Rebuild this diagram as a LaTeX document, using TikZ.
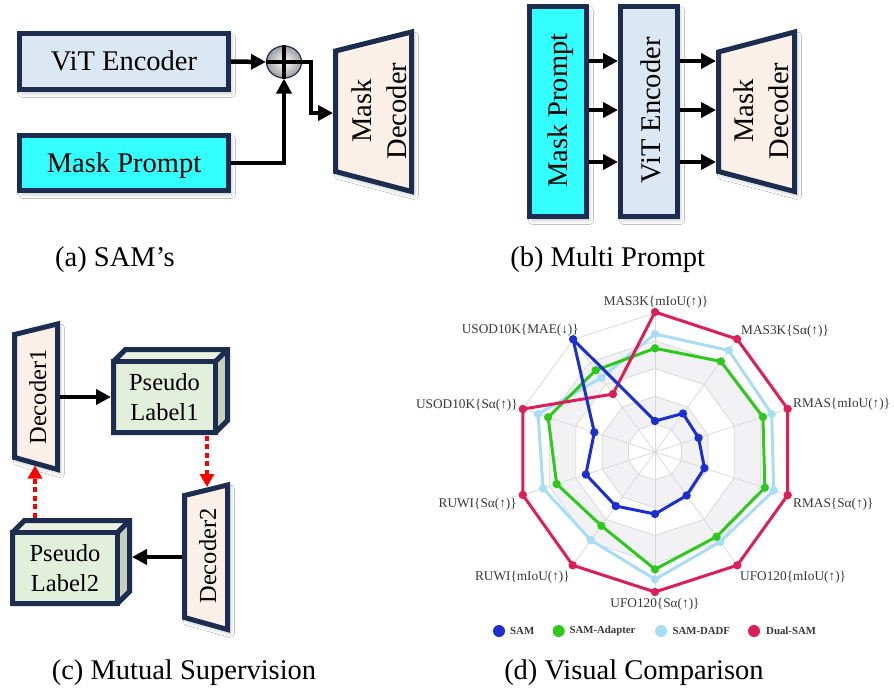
\documentclass[tikz,border=0pt]{standalone}
\usepackage{fontspec}
\setmainfont{Liberation Serif}
\usetikzlibrary{arrows.meta,calc,shapes.geometric,shadows.blur}
\pgfdeclarelayer{bg}
\pgfsetlayers{bg,main}
\definecolor{navy}{HTML}{1C2D50}
\definecolor{vitfill}{HTML}{DCE7F4}
\definecolor{mpfill}{HTML}{33FFFF}
\definecolor{decfill}{HTML}{FBF0E8}
\definecolor{plfront}{HTML}{E2EFDA}
\definecolor{pltop}{HTML}{E9F2E3}
\definecolor{plside}{HTML}{C5CFBD}
\definecolor{gridc}{HTML}{DADADA}
\definecolor{bandc}{HTML}{F2F2F5}
\definecolor{labc}{HTML}{383838}
\definecolor{csam}{HTML}{1B2FCF}
\definecolor{cada}{HTML}{2EC81F}
\definecolor{cdadf}{HTML}{A9DDF6}
\definecolor{cdual}{HTML}{DB1F57}
\newcommand\myradar[2]{%
  \foreach \a/\r [count=\i] in {#2} \coordinate (#1p\i) at (\a:\r);
  \draw[#1, line width=3pt, line join=round] (#1p1) \foreach \i in {2,...,10}{-- (#1p\i)} -- cycle;
  \foreach \i in {1,...,10} \fill[#1] (#1p\i) circle (4.2);
}
\begin{document}
\begin{tikzpicture}[x=1pt,y=-1pt,
  shad/.style={blur shadow={shadow xshift=3pt, shadow yshift=-4pt, shadow blur radius=4pt, shadow opacity=22}},
  box/.style={draw=navy, line width=5pt, line join=miter, inner sep=0pt, shad},
  plbox/.style={draw=navy, line width=5pt, line join=miter, fill=plfront, inner sep=0pt, outer sep=0pt, align=center, mid},
  edge3d/.style={navy, line width=5pt, line join=miter},
  big/.style={font=\fontsize{28.5}{35}\selectfont},
  mid/.style={font=\fontsize{24.5}{30}\selectfont},
  bigtxt/.style={big, text height=18.8pt, text depth=0pt, inner sep=0pt},
  midtxt/.style={mid, text height=16.2pt, text depth=0pt, inner sep=0pt},
  arr/.style={line width=4.5pt, -{Triangle[length=15pt,width=15pt]}},
  redarr/.style={draw=red, line width=4pt, dash pattern=on 5pt off 3.5pt, -{Triangle[length=13pt,width=14pt]}},
  lab/.style={font=\fontsize{13.3}{16}\selectfont, text=labc, inner sep=0pt},
  legt/.style={font=\fontsize{10.8}{13}\selectfont\bfseries, text=labc, inner sep=0pt},
  legd/.style={circle, minimum size=12pt, inner sep=0pt},
  ]
\useasboundingbox (0,0) rectangle (894,691);
\fill[white] (0,0) rectangle (894,691);

% ---------- (a) ----------
\node[box, fill=vitfill, minimum width=209pt, minimum height=56pt] (vitA) at (124,61.5) {};
\node[bigtxt] (vitAt) at (124,61.5) {ViT Encoder};
\node[box, fill=mpfill, minimum width=209pt, minimum height=55pt] (mpA) at (124,163) {};
\node[bigtxt] (mpAt) at (124,163) {Mask Prompt};
\draw[box, fill=decfill] (335.5,51) -- (411.5,32) -- (411.5,191.5) -- (335.5,171.5) -- cycle;
\node[big, rotate=90, align=center, inner sep=0pt] (decAt) at (379.5,111) {Mask\\Decoder};
\coordinate (decAin) at (333,113);
\node[ellipse, draw=navy, line width=1.2pt, minimum width=35pt, minimum height=32pt, inner sep=0pt,
      inner color=white, outer color=black!38] (plusA) at (284,62) {};
\draw[line width=4.5pt] (plusA.west) -- (plusA.east) (plusA.north) -- (plusA.south);
\draw[arr] (vitA.east) -- (plusA.west);
\draw[arr] (mpA.east) -| (plusA.south);
\draw[arr] (plusA.east) -- ++(9,0) |- (decAin);
\node[big, anchor=base] (capA) at (115,266) {(a) SAM’s};

% ---------- (b) ----------
\node[box, fill=mpfill, minimum width=57pt, minimum height=210pt] (mpB) at (558,111.5) {};
\node[bigtxt, rotate=90] (mpBt) at (558,110.6) {Mask Prompt};
\node[box, fill=vitfill, minimum width=57pt, minimum height=210pt] (vitB) at (649,111.5) {};
\node[bigtxt, rotate=90] (vitBt) at (651,110.5) {ViT Encoder};
\draw[box, fill=decfill] (718.5,52) -- (794.5,32) -- (794.5,191.5) -- (718.5,171.5) -- cycle;
\node[big, rotate=90, align=center, inner sep=0pt] (decBt) at (761,111) {Mask\\Decoder};
\coordinate (decBin) at (716,111.5);
\foreach \dy in {50.5,1.5,-50.5}{
  \draw[arr] ([yshift=\dy pt]mpB.east) -- ([yshift=\dy pt]vitB.west);
  \draw[arr] ([yshift=\dy pt]vitB.east) -- ([yshift=\dy pt]decBin);
}
\node[big, anchor=base] (capB) at (607.7,266) {(b) Multi Prompt};

% ---------- (c) ----------
\draw[box, fill=decfill] (14.5,334.5) -- (57.5,324) -- (57.5,469.5) -- (14.5,457.5) -- cycle;
\node[midtxt, rotate=90] (dec1t) at (38,397) {Decoder1};
\coordinate (d1out) at (60,397);
\coordinate (d1in) at (35,465.5);
\draw[box, fill=decfill] (184.5,495.5) -- (227.5,485) -- (227.5,629.5) -- (184.5,617.5) -- cycle;
\node[midtxt, rotate=90] (dec2t) at (208,556) {Decoder2};
\coordinate (d2out) at (182,557);
\coordinate (d2in) at (207,487);

\node[plbox, minimum width=102pt, minimum height=71pt] (pl1) at (164.5,397) {Pseudo\\Label1};
\node[plbox, minimum width=105pt, minimum height=71pt] (pl2) at (65,568) {Pseudo\\Label2};
\foreach \n in {pl1,pl2}{
  \begin{pgfonlayer}{bg}
    \path[shad] (\n.south west) -- (\n.north west) -- ++(12,-12) -- ($(\n.north east)+(12,-12)$)
      -- ($(\n.south east)+(12,-12)$) -- (\n.south east) -- cycle;
  \end{pgfonlayer}
  \fill[pltop] (\n.north west) -- ++(12,-12) -- ($(\n.north east)+(12,-12)$) -- (\n.north east) -- cycle;
  \fill[plside] (\n.north east) -- ++(12,-12) -- ($(\n.south east)+(12,-12)$) -- (\n.south east) -- cycle;
  \draw[edge3d] (\n.north east) -- ++(12,-12);
  \draw[edge3d] (\n.south west) -- (\n.north west) -- ++(12,-12) -- ($(\n.north east)+(12,-12)$)
      -- ($(\n.south east)+(12,-12)$) -- (\n.south east) -- cycle;
  \draw[edge3d] (\n.north west) -- (\n.north east) -- (\n.south east);
}
\coordinate (pl2in) at ($(pl2.east |- d2out)+(14.5,0)$);
\coordinate (pl2top) at ($(pl2.north -| d1in)+(0,-12)$);
\draw[arr, shorten >=2.5pt] (d1out) -- (pl1.west);
\draw[arr] (d2out) -- (pl2in);
\draw[redarr, shorten <=3pt] (pl1.south -| d2in) -- (d2in);
\draw[redarr, shorten <=3pt] (pl2top) -- (d1in);
\node[big, anchor=base] (capC) at (184,679) {(c) Mutual Supervision};

% ---------- (d) radar ----------
\begin{scope}[shift={(655,452)}, y={(0pt,1pt)}]
  \foreach \k/\c in {5/white,4/bandc,3/white,2/bandc,1/white}
    \fill[\c] (90:{27.8*\k}) \foreach \j in {1,...,9}{ -- ({90-36*\j}:{27.8*\k}) } -- cycle;
  \foreach \k in {1,...,5}
    \draw[gridc, line width=0.8pt] (90:{27.8*\k}) \foreach \j in {1,...,9}{ -- ({90-36*\j}:{27.8*\k}) } -- cycle;
  \foreach \j in {0,...,9} \draw[gridc, line width=0.8pt] (0,0) -- ({90-36*\j}:139);
  \myradar{cdadf}{90/118, 54/125.6, 18/122.7, -18/124.8, -54/111, -90/127.3, -126/109, -162/117.7, 162/123, 126/91.7}
  \myradar{cada}{90/103.7, 54/112, 18/113.5, -18/115.5, -54/104.7, -90/117.3, -126/91.2, -162/103.4, 162/112.4, 126/101}
  \myradar{cdual}{90/140, 54/139.6, 18/139.5, -18/139.5, -54/140, -90/140, -126/140, -162/139, 162/139, 126/71.6}
  \myradar{csam}{90/31, 54/47.6, 18/45.8, -18/52, -54/53.8, -90/62, -126/66.8, -162/72.7, 162/63.8, 126/139.4}
\end{scope}
\node[lab] (l0) at (656,302) {MAS3K\{mIoU(↑)\}};
\node[lab, anchor=west] (l1) at (741,331) {MAS3K\{Sα(↑)\}};
\node[lab, anchor=west] (l2) at (793,404) {RMAS\{mIoU(↑)\}};
\node[lab, anchor=west] (l3) at (793,504) {RMAS\{Sα(↑)\}};
\node[lab, anchor=west] (l4) at (740,577) {UFO120\{mIoU(↑)\}};
\node[lab] (l5) at (655,604) {UFO120\{Sα(↑)\}};
\node[lab, anchor=east] (l6) at (570,577) {RUWI\{mIoU(↑)\}};
\node[lab, anchor=east] (l7) at (517,504) {RUWI\{Sα(↑)\}};
\node[lab, anchor=east] (l8) at (518,405) {USOD10K\{Sα(↑)\}};
\node[lab, anchor=east] (l9) at (579,330) {USOD10K\{MAE(↓)\}};
% legend
\node[legd, fill=csam] (g1) at (499,631) {};
\node[legt, anchor=west] (g1t) at (510,631) {SAM};
\node[legd, fill=cada] (g2) at (558.7,631) {};
\node[legt, anchor=west] (g2t) at (569.3,631) {SAM-Adapter};
\node[legd, fill=cdadf] (g3) at (661,631) {};
\node[legt, anchor=west] (g3t) at (672.3,631) {SAM-DADF};
\node[legd, fill=cdual] (g4) at (754,631) {};
\node[legt, anchor=west] (g4t) at (766,631) {Dual-SAM};
\node[big, anchor=base] (capD) at (634,679) {(d) Visual Comparison};
\end{tikzpicture}
\end{document}
